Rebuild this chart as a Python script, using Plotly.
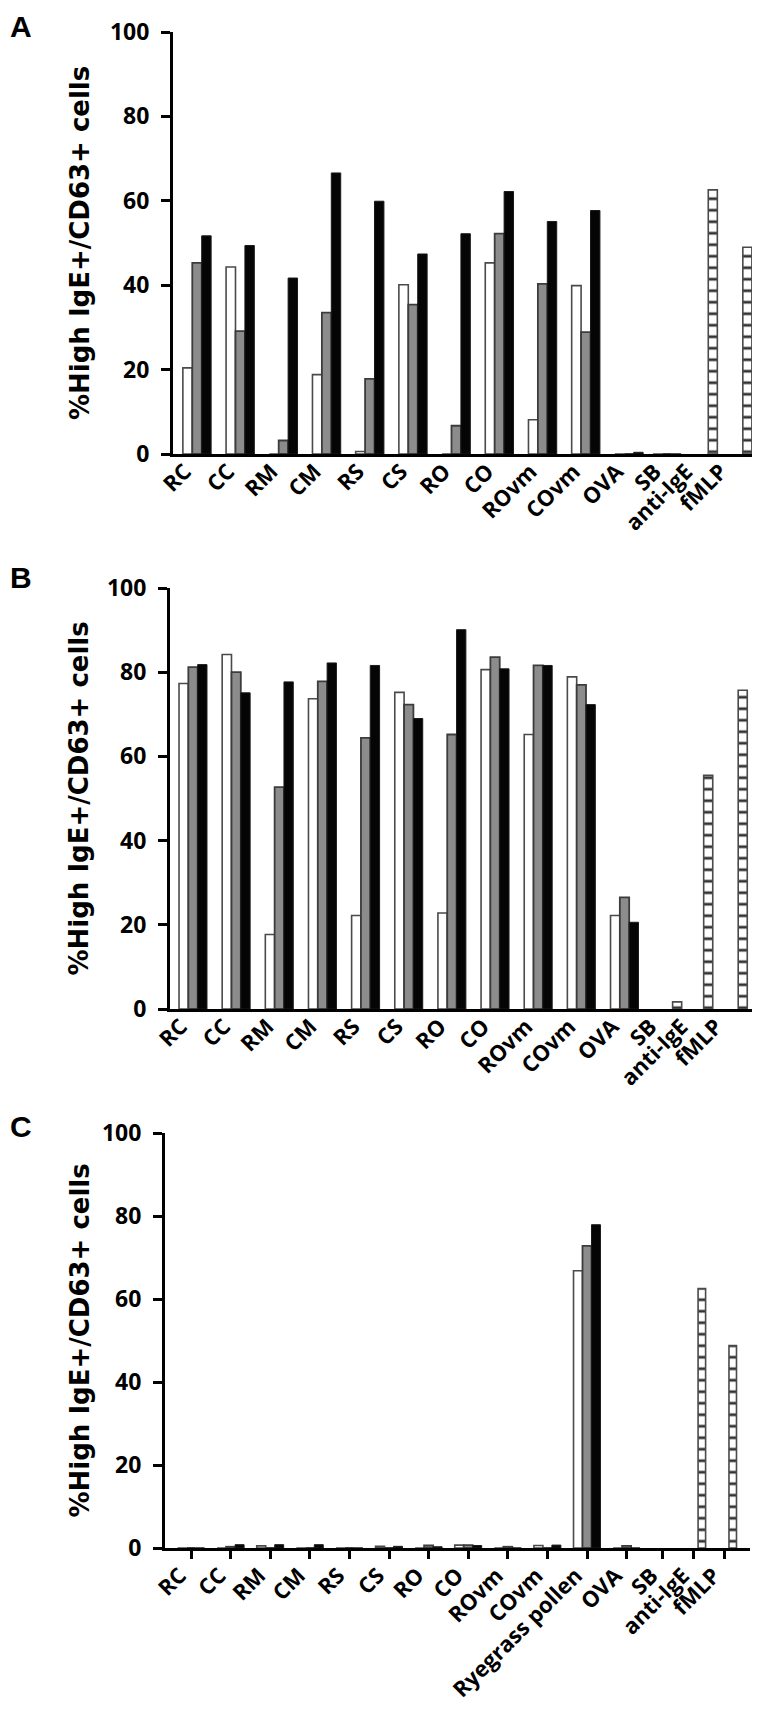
import plotly.graph_objects as go

W, H = 760, 1710

# ---------------- data ----------------
cats_AB = ["RC", "CC", "RM", "CM", "RS", "CS", "RO", "CO", "ROvm", "COvm",
           "OVA", "SB", "anti-IgE", "fMLP"]
cats_C = ["RC", "CC", "RM", "CM", "RS", "CS", "RO", "CO", "ROvm", "COvm",
          "Ryegrass pollen", "OVA", "SB", "anti-IgE", "fMLP"]

A_white = [20.4, 44.3, 0, 18.8, 0.6, 40.1, 0, 45.3, 8.1, 39.9, 0, 0, None, None]
A_gray = [45.3, 29.1, 3.2, 33.5, 17.8, 35.4, 6.7, 52.2, 40.3, 28.9, 0, 0, None, None]
A_black = [51.7, 49.4, 41.7, 66.6, 59.9, 47.4, 52.2, 62.2, 55.1, 57.7, 0.4, 0, None, None]
A_ctrl = [None, None, None, None, None, None, None, None, None, None, None, None, 62.6, 49.0]

B_white = [77.3, 84.2, 17.7, 73.7, 22.2, 75.2, 22.8, 80.6, 65.2, 78.9, 22.2, None, None, None]
B_gray = [81.2, 80.0, 52.7, 77.8, 64.4, 72.3, 65.2, 83.6, 81.6, 77.0, 26.5, None, None, None]
B_black = [81.8, 75.1, 77.7, 82.2, 81.6, 69.0, 90.1, 80.8, 81.6, 72.3, 20.6, None, None, None]
B_ctrl = [None, None, None, None, None, None, None, None, None, None, None, 1.7, 55.5, 75.7]

C_white = [0, 0, 0.5, 0, 0, 0.4, 0, 0.7, 0, 0.6, 66.8, 0, None, None, None]
C_gray = [0, 0.3, 0, 0, 0, 0, 0.6, 0.7, 0.3, 0, 72.8, 0.5, None, None, None]
C_black = [0, 0.8, 0.8, 0.8, 0, 0.4, 0.3, 0.6, 0, 0.7, 77.9, 0, None, None, None]
C_ctrl = [None] * 13 + [62.5, 48.8]

y_ticks = [0, 20, 40, 60, 80, 100]
y_title = "%High IgE+/CD63+ cells"

# ---------------- layout constants (axis positions) ----------------
POS_AB = [0, 1, 2, 3, 4, 5, 6, 7, 8, 9, 10, 10.88, 11.6, 12.4]
POS_C = [0, 1, 2, 3, 4, 5, 6, 7, 8, 9, 10, 11, 11.91, 12.7, 13.48]


def px(x):
    return x / W


def py(y):
    return 1 - y / H


WHITE = dict(color="white", line=dict(color="#4a4a4a", width=1.6))
GRAY = dict(color="#8c8c8c", line=dict(color="#3c3c3c", width=1.8))
BLACK = dict(color="#050505", line=dict(color="#1a1a1a", width=1))
CTRL = dict(color="white", line=dict(color="#4a4a4a", width=1.6),
            pattern=dict(shape="-", size=11.5, solidity=0.24, fgcolor="#333333",
                         bgcolor="white", fillmode="replace"))

fig = go.Figure()


def add_panel(idx, pos, series, ctrl, w, ctrl_off, ctrl_w):
    xa = "x" if idx == 1 else f"x{idx}"
    ya = "y" if idx == 1 else f"y{idx}"
    styles = [WHITE, GRAY, BLACK]
    for k, (vals, st) in enumerate(zip(series, styles)):
        fig.add_trace(go.Bar(x=pos, y=vals, xaxis=xa, yaxis=ya, width=w,
                             offset=(k - 1.5) * w, marker=st, showlegend=False))
    fig.add_trace(go.Bar(x=pos, y=ctrl, xaxis=xa, yaxis=ya, width=ctrl_w,
                         offset=ctrl_off, marker=CTRL, showlegend=False))


add_panel(1, POS_AB, [A_white, A_gray, A_black], A_ctrl, 0.218, 0.235, 0.21)
add_panel(2, POS_AB, [B_white, B_gray, B_black], B_ctrl, 0.216, 0.235, 0.21)
add_panel(3, POS_C, [C_white, C_gray, C_black], C_ctrl, 0.227, 0.105, 0.19)

XFONT = dict(family="Open Sans", size=22, color="black", weight="bold")
YFONT = dict(family="Open Sans", size=23, color="black", weight="bold")


def xaxis(dom, rng, pos, cats, ticks):
    d = dict(domain=dom, range=rng, showline=True, linecolor="black", linewidth=3,
             tickvals=pos, ticktext=cats, tickangle=-45, tickfont=XFONT,
             showgrid=False, zeroline=False, automargin=False, fixedrange=True)
    if ticks:
        d.update(ticks="outside", ticklen=8, tickwidth=2.5, tickcolor="black",
                 ticklabelstandoff=-5, ticklabelshift=-11)
    else:
        d.update(ticks="", ticklabelstandoff=-7, ticklabelshift=-12)
    return d


def yaxis(dom, anchor):
    return dict(domain=dom, range=[0, 100], showline=True, linecolor="black",
                linewidth=3, tickvals=y_ticks, ticks="outside", ticklen=9,
                tickwidth=3, tickcolor="black", tickfont=YFONT, showgrid=False,
                zeroline=False, automargin=False, anchor=anchor, fixedrange=True,
                ticklabelstandoff=7)


ax_A = (165, 757, 24, 446, 189, 43.2)
ax_B = (162, 752, 580, 1001, 185, 43.15)
ax_C = (157, 742, 1125, 1540, 183, 39.6)


def rng(ax):
    l, r, t, b, o, s = ax
    return [(l - o) / s, (r - o) / s]


layout = dict(width=W, height=H, margin=dict(l=0, r=0, t=0, b=0),
              paper_bgcolor="white", plot_bgcolor="white", barmode="overlay",
              showlegend=False)
for i, (ax, pos, cats, ticks) in enumerate(
        [(ax_A, POS_AB, cats_AB, False), (ax_B, POS_AB, cats_AB, False),
         (ax_C, POS_C, cats_C, True)], start=1):
    l, r, t, b, o, s = ax
    xk = "xaxis" if i == 1 else f"xaxis{i}"
    yk = "yaxis" if i == 1 else f"yaxis{i}"
    xa = xaxis([px(l), px(r)], rng(ax), pos, cats, ticks)
    xa["anchor"] = "y" if i == 1 else f"y{i}"
    layout[xk] = xa
    layout[yk] = yaxis([py(b), py(t)], "x" if i == 1 else f"x{i}")

annotations = []
for ax, cx, letter, ly in [(ax_A, 72, "A", 0), (ax_B, 70, "B", 551), (ax_C, 71, "C", 1100)]:
    l, r, t, b, o, s = ax
    annotations.append(dict(text=y_title, textangle=-90, xref="paper", yref="paper",
                            x=px(cx), y=py((t + b) / 2), xanchor="center", yanchor="middle",
                            showarrow=False,
                            font=dict(family="DejaVu Sans", size=26, color="black", weight="bold")))
    annotations.append(dict(text=letter, xref="paper", yref="paper", x=px(0), y=py(ly),
                            xanchor="left", yanchor="top", showarrow=False,
                            font=dict(family="Liberation Sans", size=30, color="black", weight="bold")))
layout["annotations"] = annotations

fig.update_layout(**layout)
fig.write_html("out.html")
